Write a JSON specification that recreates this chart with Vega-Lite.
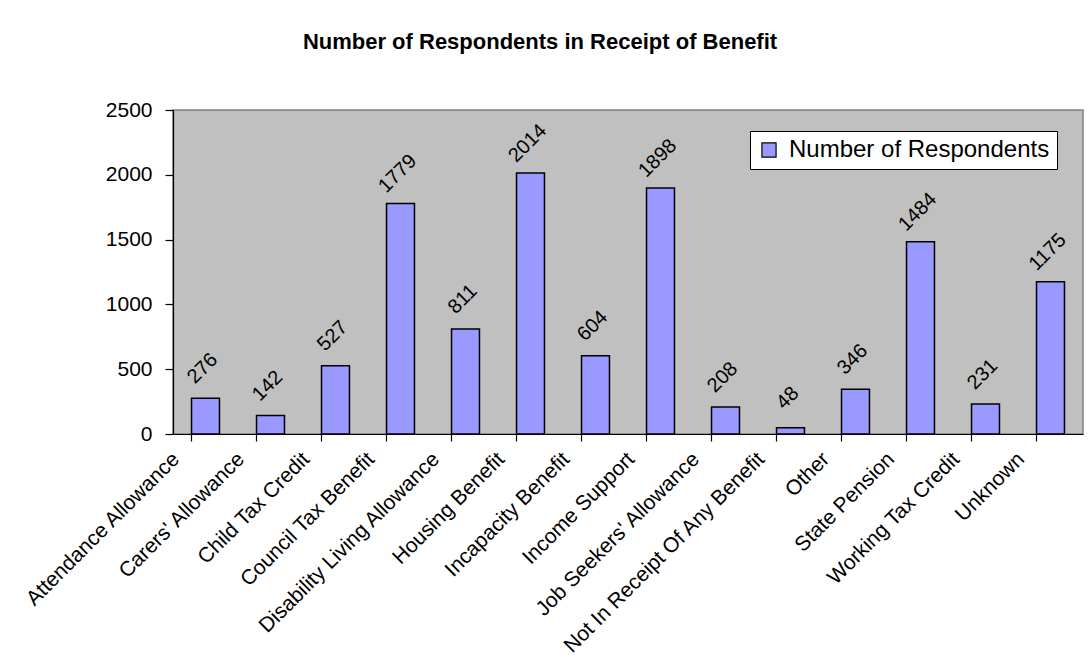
{
  "$schema": "https://vega.github.io/schema/vega-lite/v6.json",
  "autosize": {"type": "none"},
  "width": 910,
  "height": 324,
  "padding": {"left": 173, "top": 110, "right": 5, "bottom": 224},
  "background": "white",
  "title": {
    "text": "Number of Respondents in Receipt of Benefit",
    "font": "Liberation Sans",
    "fontSize": 22,
    "fontWeight": "bold",
    "color": "black",
    "anchor": "middle",
    "frame": "group",
    "offset": 45,
    "dx": -88
  },
  "config": {
    "view": {"fill": "#C0C0C0", "stroke": "#808080", "strokeWidth": 1.5},
    "font": "Liberation Sans"
  },
  "data": {
    "values": [
      {"benefit": "Attendance Allowance", "count": 276},
      {"benefit": "Carers' Allowance", "count": 142},
      {"benefit": "Child Tax Credit", "count": 527},
      {"benefit": "Council Tax Benefit", "count": 1779},
      {"benefit": "Disability Living Allowance", "count": 811},
      {"benefit": "Housing Benefit", "count": 2014},
      {"benefit": "Incapacity Benefit", "count": 604},
      {"benefit": "Income Support", "count": 1898},
      {"benefit": "Job Seekers' Allowance", "count": 208},
      {"benefit": "Not In Receipt Of Any Benefit", "count": 48},
      {"benefit": "Other", "count": 346},
      {"benefit": "State Pension", "count": 1484},
      {"benefit": "Working Tax Credit", "count": 231},
      {"benefit": "Unknown", "count": 1175}
    ]
  },
  "encoding": {
    "x": {
      "field": "benefit",
      "type": "nominal",
      "sort": null,
      "scale": {"paddingInner": 0.57, "paddingOuter": 0.285},
      "axis": {
        "title": null,
        "bandPosition": 0,
        "domainColor": "black",
        "domainWidth": 1.2,
        "tickColor": "black",
        "tickSize": 7,
        "tickWidth": 1.2,
        "labelAngle": -45,
        "labelAlign": "right",
        "labelBaseline": "top",
        "labelPadding": 7,
        "labelOffset": -37,
        "labelFontSize": 21,
        "labelColor": "black",
        "labelFont": "Liberation Sans",
        "labelLimit": 400,
        "labelOverlap": false
      }
    },
    "y": {
      "field": "count",
      "type": "quantitative",
      "scale": {"domain": [0, 2500], "nice": false},
      "axis": {
        "title": null,
        "values": [0, 500, 1000, 1500, 2000, 2500],
        "format": "d",
        "grid": false,
        "domainColor": "black",
        "domainWidth": 1.2,
        "tickColor": "black",
        "tickSize": 8,
        "tickWidth": 1.2,
        "labelPadding": 13,
        "labelFontSize": 21,
        "labelColor": "black",
        "labelFont": "Liberation Sans"
      }
    }
  },
  "layer": [
    {
      "mark": {"type": "bar", "stroke": "black", "strokeWidth": 1.5},
      "encoding": {
        "color": {
          "datum": "Number of Respondents",
          "scale": {"range": ["#9999FF"]},
          "legend": {
            "title": null,
            "orient": "none",
            "legendX": 577,
            "legendY": 21,
            "fillColor": "white",
            "strokeColor": "black",
            "padding": 7,
            "symbolType": "square",
            "symbolSize": 200,
            "symbolStrokeColor": "black",
            "symbolStrokeWidth": 1.2,
            "symbolFillColor": "#9999FF",
            "labelFontSize": 24,
            "labelFont": "Liberation Sans",
            "labelColor": "black",
            "labelLimit": 400,
            "labelOffset": 8
          }
        }
      }
    },
    {
      "mark": {
        "type": "text",
        "angle": -45,
        "align": "center",
        "baseline": "middle",
        "dx": 19,
        "dy": -23,
        "fontSize": 20,
        "font": "Liberation Sans",
        "color": "black"
      },
      "encoding": {"text": {"field": "count", "type": "quantitative"}}
    }
  ]
}
